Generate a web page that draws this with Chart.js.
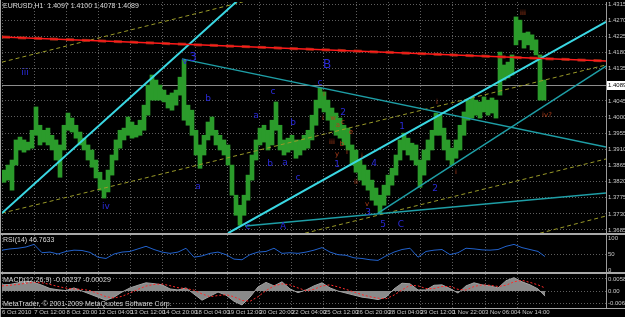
<!DOCTYPE html>
<html>
<head>
<meta charset="utf-8">
<script src="https://cdn.jsdelivr.net/npm/chart.js@4.4.0/dist/chart.umd.min.js"></script>
<style>
  html, body { margin: 0; padding: 0; background: #000; }
  #wrap { position: relative; width: 625px; height: 317px; background: #000; overflow: hidden; }
  #wrap canvas { position: absolute; left: 0; display: block; }
</style>
</head>
<body>
<div id="wrap">
  <canvas id="precio" width="625" height="234" style="top:0"></canvas>
  <canvas id="rsi" width="625" height="39" style="top:234px"></canvas>
  <canvas id="macd" width="625" height="44" style="top:273px"></canvas>
</div>
<script>
// Datos del gráfico EURUSD H1 (una barra = una hora)
const etiquetasTiempo = ['6 Oct 2010', '7 Oct 12:00', '8 Oct 20:00', '12 Oct 04:00', '13 Oct 12:00', '14 Oct 20:00',
  '18 Oct 04:00', '19 Oct 12:00', '20 Oct 20:00', '22 Oct 04:00', '25 Oct 12:00', '26 Oct 20:00', '28 Oct 04:00',
  '29 Oct 12:00', '1 Nov 22:00', '3 Nov 06:00', '4 Nov 14:00'];
const horasPorEtiqueta = 32.2;

const ticksPrecio = [1.4315, 1.4270, 1.4225, 1.4180, 1.4135, 1.4045, 1.4000, 1.3955, 1.3910, 1.3865, 1.3820, 1.3775, 1.3730, 1.3685];
const precioActual = 1.4089;
const titulo = 'EURUSD,H1  1.4097 1.4100 1.4078 1.4089';

// máximos y mínimos cada 4 horas
const maximos = [1.3852, 1.3866, 1.3880, 1.3936, 1.3944, 1.3936, 1.3930, 1.3963, 1.4028, 1.3977,
  1.3963, 1.3969, 1.3949, 1.3936, 1.3922, 1.3977, 1.4011, 1.3997, 1.3977, 1.3958,
  1.3941, 1.3922, 1.3908, 1.3880, 1.3846, 1.3824, 1.3852, 1.3894, 1.3936, 1.3963,
  1.3969, 1.4000, 1.3986, 1.3977, 1.3991, 1.4033, 1.4089, 1.4117, 1.4103, 1.4089,
  1.4075, 1.4061, 1.4067, 1.4075, 1.4111, 1.4159, 1.4033, 1.4019, 1.3963, 1.3922,
  1.3949, 1.3986, 1.4000, 1.3963, 1.3949, 1.3936, 1.3922, 1.3866, 1.3782, 1.3754,
  1.3782, 1.3838, 1.3894, 1.3936, 1.3969, 1.3977, 1.3963, 1.3991, 1.4042, 1.3977,
  1.3936, 1.3941, 1.3949, 1.3936, 1.3936, 1.3949, 1.3963, 1.4005, 1.4047, 1.4081,
  1.4070, 1.4047, 1.4025, 1.4011, 1.3997, 1.3977, 1.3969, 1.3922, 1.3908, 1.3880,
  1.3866, 1.3852, 1.3824, 1.3802, 1.3782, 1.3810, 1.3838, 1.3857, 1.3894, 1.3936,
  1.3955, 1.3941, 1.3927, 1.3922, 1.3880, 1.3908, 1.3936, 1.3963, 1.4011, 1.4005,
  1.3969, 1.3936, 1.3913, 1.3936, 1.3977, 1.4014, 1.4047, 1.4053, 1.4047, 1.4042,
  1.4056, 1.4047, 1.4053, 1.4047, 1.4181, 1.4145, 1.4153, 1.4173, 1.4279, 1.4270,
  1.4234, 1.4237, 1.4229, 1.4215, 1.4173, 1.4103];
const minimos = [1.3818, 1.3824, 1.3796, 1.3866, 1.3908, 1.3902, 1.3908, 1.3913, 1.3949, 1.3922,
  1.3930, 1.3922, 1.3908, 1.3880, 1.3832, 1.3908, 1.3963, 1.3958, 1.3941, 1.3922,
  1.3908, 1.3880, 1.3860, 1.3830, 1.3796, 1.3774, 1.3791, 1.3838, 1.3880, 1.3913,
  1.3936, 1.3949, 1.3941, 1.3944, 1.3949, 1.3963, 1.4005, 1.4047, 1.4047, 1.4047,
  1.4042, 1.4025, 1.4019, 1.4033, 1.4061, 1.3991, 1.3977, 1.3949, 1.3894, 1.3857,
  1.3894, 1.3936, 1.3949, 1.3922, 1.3908, 1.3894, 1.3866, 1.3782, 1.3726, 1.3698,
  1.3726, 1.3768, 1.3824, 1.3880, 1.3922, 1.3930, 1.3908, 1.3922, 1.3963, 1.3908,
  1.3894, 1.3902, 1.3908, 1.3885, 1.3894, 1.3908, 1.3913, 1.3936, 1.3977, 1.4025,
  1.4014, 1.3991, 1.3963, 1.3949, 1.3941, 1.3922, 1.3908, 1.3866, 1.3846, 1.3824,
  1.3810, 1.3796, 1.3768, 1.3754, 1.3732, 1.3754, 1.3782, 1.3810, 1.3838, 1.3880,
  1.3908, 1.3894, 1.3880, 1.3866, 1.3804, 1.3838, 1.3880, 1.3908, 1.3949, 1.3949,
  1.3908, 1.3880, 1.3866, 1.3885, 1.3908, 1.3949, 1.3991, 1.3997, 1.4005, 1.3997,
  1.4014, 1.4005, 1.4011, 1.3997, 1.4061, 1.4103, 1.4109, 1.4117, 1.4201, 1.4215,
  1.4192, 1.4201, 1.4187, 1.4173, 1.4047, 1.4047];

// líneas de tendencia: [hora inicio, precio inicio, hora fin, precio fin]
const lineaRoja = [0, 1.4223, 604, 1.4156];
const canalCian = [[0, 1.3732, 235, 1.4323], [226, 1.3676, 604, 1.4265]];
const lineasTurquesa = [[180, 1.4162, 604, 1.3916], [243, 1.3696, 604, 1.3788], [376, 1.3732, 604, 1.4142]];
const lineasOliva = [[0, 1.4153, 241, 1.4321], [0, 1.3732, 604, 1.4145], [303, 1.3676, 604, 1.3883], [538, 1.3676, 604, 1.3724]];

// etiquetas de ondas: [hora, precio, texto]
const ondasAzules = [[23, 1.4123, 'iii'], [183, 1.4153, 'v'], [206, 1.4050, 'b'], [271, 1.4070, 'c'],
  [318, 1.4097, 'c'], [254, 1.4003, 'a'], [341, 1.4011, '2'], [291, 1.3983, 'b'], [268, 1.3869, 'b'],
  [283, 1.3874, 'a'], [296, 1.3832, 'c'], [196, 1.3805, 'a'], [104, 1.3749, 'iv'], [246, 1.3693, 'c'],
  [281, 1.3693, 'A'], [335, 1.3866, '1'], [372, 1.3871, '4'], [366, 1.3732, '3'], [381, 1.3701, '5'],
  [399, 1.3701, 'C'], [400, 1.3972, '1'], [433, 1.3799, '2']];
const ondasGrandes = [[191, 1.4164, '3'], [325, 1.4145, 'B']];
const ondasRojas = [[322, 1.4064, 'i'], [321, 1.3997, 'i'], [331, 1.3997, 'w'], [336, 1.3978, 'a'],
  [341, 1.3986, 'c'], [349, 1.3958, 'e'], [330, 1.3930, 'iii'], [340, 1.3924, 'b'], [345, 1.3902, 'i'],
  [335, 1.3897, 'y'], [360, 1.3891, 'i'], [354, 1.3818, 'ii'], [365, 1.3757, 'v'], [454, 1.3846, 'i'],
  [435, 1.4042, 'i'], [521, 1.4290, 'iii'], [545, 1.4005, 'iv?']];

// indicadores, muestreados cada 8 horas
const horasIndicador = [0, 8, 16, 24, 32, 40, 48, 56, 64, 72, 80, 88, 96, 104, 112, 120, 128, 136, 144, 152,
  160, 168, 176, 184, 192, 200, 208, 216, 224, 232, 240, 248, 256, 264, 272, 280, 288, 296, 304, 312,
  320, 328, 336, 344, 352, 360, 368, 376, 384, 392, 400, 408, 416, 424, 432, 440, 448, 456, 464, 472,
  480, 488, 496, 504, 512, 520, 528, 536, 543];
const rsiValores = [62, 66, 68, 72, 80, 54, 56, 50, 58, 62, 61, 55, 40, 36, 50, 56, 58, 66, 74, 64,
  56, 52, 56, 68, 40, 44, 52, 56, 48, 34, 32, 48, 56, 58, 68, 52, 54, 52, 56, 62,
  70, 56, 48, 46, 38, 36, 32, 30, 44, 56, 64, 68, 40, 58, 62, 64, 48, 54, 68, 66,
  63, 62, 64, 74, 80, 70, 64, 58, 42];
const macdValores = [0.0030, 0.0032, 0.0040, 0.0048, 0.0042, 0.0028, 0.0012, 0.0006, 0.0002, 0.0015,
  0.0000, -0.0015, -0.0030, -0.0045, -0.0030, -0.0005, 0.0015, 0.0028, 0.0040, 0.0036,
  0.0030, 0.0010, 0.0005, 0.0015, -0.0015, -0.0045, -0.0025, -0.0005, -0.0020, -0.0050,
  -0.0068, -0.0030, 0.0020, 0.0042, 0.0025, 0.0045, 0.0010, -0.0008, 0.0005, 0.0025,
  0.0040, 0.0015, 0.0000, -0.0010, -0.0020, -0.0030, -0.0035, -0.0042, -0.0030, 0.0010,
  0.0038, 0.0035, 0.0005, 0.0005, 0.0028, 0.0030, 0.0012, -0.0010, 0.0025, 0.0040,
  0.0030, 0.0025, 0.0015, 0.0050, 0.0065, 0.0045, 0.0030, 0.0010, -0.0025];
const senalValores = [0.0025, 0.0028, 0.0032, 0.0038, 0.0042, 0.0040, 0.0032, 0.0022, 0.0014, 0.0010,
  0.0008, 0.0002, -0.0012, -0.0028, -0.0034, -0.0026, -0.0010, 0.0008, 0.0024, 0.0032,
  0.0034, 0.0026, 0.0016, 0.0012, 0.0004, -0.0014, -0.0028, -0.0022, -0.0018, -0.0028,
  -0.0046, -0.0050, -0.0028, 0.0002, 0.0025, 0.0035, 0.0030, 0.0015, 0.0002, 0.0008,
  0.0025, 0.0030, 0.0020, 0.0008, -0.0005, -0.0018, -0.0028, -0.0035, -0.0038, -0.0020,
  0.0005, 0.0028, 0.0025, 0.0012, 0.0012, 0.0022, 0.0022, 0.0008, 0.0005, 0.0022,
  0.0030, 0.0028, 0.0022, 0.0028, 0.0045, 0.0052, 0.0042, 0.0030, 0.0015];
const ticksRsi = [0, 20, 50, 80, 100];
const ticksMacd = [-0.00618, 0, 0.00586];

const FUENTE = "'Liberation Sans', Arial, sans-serif";
const GRIS = '#c8c8c8';
const REJILLA = '#5e5e5e';

Chart.defaults.animation = false;
Chart.defaults.font.family = FUENTE;
Chart.defaults.plugins.legend.display = false;
Chart.defaults.plugins.tooltip.enabled = false;

// eje de tiempo compartido por los tres paneles
function ejeTiempo(conEtiquetas) {
  return {
    type: 'linear', min: 0, max: 604, offset: false,
    afterBuildTicks: s => { s.ticks = etiquetasTiempo.map((t, i) => ({ value: i * horasPorEtiqueta })); },
    afterFit: s => { s.height = conEtiquetas ? 9 : 0; s.paddingLeft = 0; s.paddingRight = 0; },
    ticks: {
      display: conEtiquetas, autoSkip: false, maxRotation: 0, align: 'start', padding: 1,
      color: GRIS, font: { size: 6 }, callback: (v, i) => etiquetasTiempo[i]
    },
    grid: { color: REJILLA, drawTicks: false, offset: false },
    border: { display: false, dash: [1, 2] }
  };
}

function ejeValores(min, max, ticks, formato, rejilla) {
  return {
    position: 'right', min: min, max: max,
    afterBuildTicks: s => { s.ticks = ticks.map(v => ({ value: v })); },
    afterFit: s => { s.width = 19; s.paddingTop = 0; s.paddingBottom = 0; },
    ticks: { color: GRIS, font: { size: 6 }, padding: 2, callback: formato },
    grid: { color: rejilla || REJILLA, drawTicks: false },
    border: { display: true, color: '#9a9a9a', dash: [1, 2] }
  };
}

// bordes y separadores de los paneles, y textos fijos
const marco = {
  id: 'marco',
  beforeDraw(chart) {
    const c = chart.ctx;
    c.save();
    c.fillStyle = '#000';
    c.fillRect(0, 0, chart.width, chart.height);
    c.restore();
  },
  afterDraw(chart, args, opts) {
    const c = chart.ctx, a = chart.chartArea;
    c.save();
    c.fillStyle = '#a8a8a8';
    c.fillRect(0, 0, 1, chart.height);
    if (opts.arriba) c.fillRect(0, a.top - 1, chart.width, 1);
    c.fillRect(0, a.bottom, chart.width, 1);
    c.font = '7px ' + FUENTE;
    c.fillStyle = '#d8d8d8';
    c.textBaseline = 'middle';
    (opts.textos || []).forEach(t => c.fillText(t[0], t[1], t[2]));
    c.restore();
  }
};

// precio actual y etiquetas de ondas
const ondas = {
  id: 'ondas',
  beforeDatasetsDraw(chart) {
    const c = chart.ctx, a = chart.chartArea;
    const y = Math.round(chart.scales.y.getPixelForValue(precioActual)) + 0.5;
    c.save();
    c.strokeStyle = '#8c8c8c';
    c.lineWidth = 1;
    c.beginPath();
    c.moveTo(a.left, y);
    c.lineTo(a.right, y);
    c.stroke();
    c.restore();
  },
  afterDatasetsDraw(chart) {
    const c = chart.ctx, sx = chart.scales.x, sy = chart.scales.y;
    c.save();
    c.textAlign = 'center';
    c.textBaseline = 'middle';
    const dibujar = (lista, color, fuente) => {
      c.fillStyle = color;
      c.font = fuente;
      lista.forEach(o => c.fillText(o[2], sx.getPixelForValue(o[0]), sy.getPixelForValue(o[1])));
    };
    dibujar(ondasAzules, '#2a2ad8', "9px 'DejaVu Sans', sans-serif");
    dibujar(ondasGrandes, '#2a2ad8', "12px 'DejaVu Sans', sans-serif");
    dibujar(ondasRojas, '#b5401c', "7px 'DejaVu Sans', sans-serif");
    c.restore();
  },
  afterDraw(chart) {
    const c = chart.ctx, a = chart.chartArea;
    const y = Math.round(chart.scales.y.getPixelForValue(precioActual));
    c.save();
    c.fillStyle = '#ffffff';
    c.fillRect(a.right + 1, y - 4, chart.width - a.right - 1, 9);
    c.fillStyle = '#000';
    c.font = '6px ' + FUENTE;
    c.textBaseline = 'middle';
    c.fillText(precioActual.toFixed(4), a.right + 2, y + 0.5);
    c.restore();
  }
};

function tramo(l, color, ancho, guion, orden) {
  return {
    type: 'line',
    data: [{ x: l[0], y: l[1] }, { x: l[2], y: l[3] }],
    borderColor: color, borderWidth: ancho, borderDash: guion || [],
    pointRadius: 0, fill: false, order: orden || 1
  };
}

// Panel principal: barras de precio y líneas de tendencia
new Chart(document.getElementById('precio'), {
  type: 'bar',
  data: {
    datasets: [
      {
        label: 'EURUSD',
        data: maximos.map((h, i) => ({ x: 4 * i + 2, y: [minimos[i], h] })),
        backgroundColor: '#2b9b2b',
        barThickness: 4,
        grouped: false,
        order: 10
      },
      ...lineasOliva.map(l => tramo(l, '#9a9a28', 1, [4, 3], 4)),
      ...lineasTurquesa.map(l => tramo(l, '#1e9ea6', 1.5, null, 3)),
      tramo(lineaRoja, '#8e2a14', 3, [8, 8], 2),
      tramo(lineaRoja, '#ff1a1a', 1.5, null, 1),
      ...canalCian.map(l => tramo(l, '#3ad8e4', 2, null, 1))
    ]
  },
  options: {
    responsive: false,
    layout: { padding: { left: 2, top: 2, right: 0, bottom: 1 } },
    scales: {
      x: ejeTiempo(false),
      y: ejeValores(1.36766, 1.43206, ticksPrecio, v => v.toFixed(4))
    },
    plugins: { marco: { textos: [[titulo, 3, 6]] } }
  },
  plugins: [marco, ondas]
});

// Panel RSI
new Chart(document.getElementById('rsi'), {
  type: 'line',
  data: {
    datasets: [{
      label: 'RSI(14)',
      data: rsiValores.map((v, i) => ({ x: horasIndicador[i], y: v })),
      borderColor: '#2262cc', borderWidth: 1, pointRadius: 0, fill: false
    }]
  },
  options: {
    responsive: false,
    layout: { padding: { left: 2, top: 1, right: 0, bottom: 1 } },
    scales: {
      x: ejeTiempo(false),
      y: ejeValores(-6.25, 109.4, ticksRsi, v => String(v),
        ctx => (ctx.tick && (ctx.tick.value === 0 || ctx.tick.value === 100)) ? 'rgba(0,0,0,0)' : REJILLA)
    },
    plugins: { marco: { arriba: true, textos: [['RSI(14) 46.7633', 3, 6]] } }
  },
  plugins: [marco]
});

// Panel MACD
new Chart(document.getElementById('macd'), {
  type: 'line',
  data: {
    datasets: [
      {
        label: 'MACD',
        data: macdValores.map((v, i) => ({ x: horasIndicador[i], y: v })),
        borderColor: '#a4a4a4', backgroundColor: '#8a8a8a', borderWidth: 1,
        pointRadius: 0, fill: 'origin', order: 2
      },
      {
        label: 'Señal',
        data: senalValores.map((v, i) => ({ x: horasIndicador[i], y: v })),
        borderColor: '#ff2a2a', borderWidth: 1, borderDash: [2, 2],
        pointRadius: 0, fill: false, order: 1
      }
    ]
  },
  options: {
    responsive: false,
    layout: { padding: { left: 2, top: 1, right: 0, bottom: 0 } },
    scales: {
      x: ejeTiempo(true),
      y: ejeValores(-0.0083, 0.0083, ticksMacd, v => v === 0 ? '0.00' : v.toFixed(5))
    },
    plugins: {
      marco: {
        arriba: true,
        textos: [['MACD(12,26,9) -0.00237 -0.00029', 3, 7],
                 ['MetaTrader, \u00a9 2001-2009 MetaQuotes Software Corp.', 3, 31]]
      }
    }
  },
  plugins: [marco]
});
</script>
</body>
</html>
